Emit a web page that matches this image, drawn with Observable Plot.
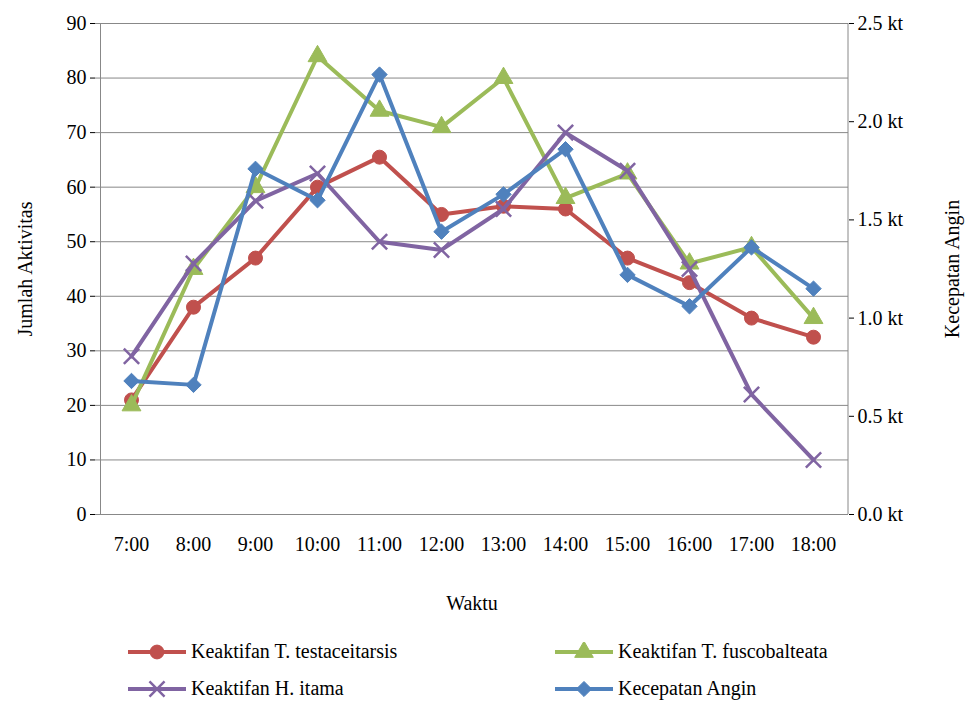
<!DOCTYPE html>
<html><head><meta charset="utf-8">
<script src="https://cdn.jsdelivr.net/npm/d3@7"></script>
<script src="https://cdn.jsdelivr.net/npm/@observablehq/plot@0.6"></script>
<style>
body{margin:0;background:#fff;font-family:"Liberation Serif",serif;}
#legend{position:relative;height:83px;font-size:20px;}
.item{position:absolute;display:flex;align-items:center;}
</style></head><body>
<div id="chart"></div>
<div id="legend"></div>
<script>
const jam = ["7:00","8:00","9:00","10:00","11:00","12:00","13:00","14:00","15:00","16:00","17:00","18:00"];
const testaceitarsis = [21, 38, 47, 60, 65.5, 55, 56.5, 56, 47, 42.5, 36, 32.5];
const fuscobalteata = [20, 45, 60, 84, 74, 71, 80, 58, 62.5, 46, 49, 36];
const itama = [29, 46, 57.5, 62.5, 50, 48.5, 56, 70, 63, 45, 22, 10];
const angin = [0.68, 0.66, 1.76, 1.60, 2.24, 1.44, 1.63, 1.86, 1.22, 1.06, 1.36, 1.15];
const ktTicks = [0, 0.5, 1, 1.5, 2, 2.5];
const K = 36; // 2.5 kt sits at 90

// square diamond (rotated square)
const squareDiamond = {draw(ctx, size) {
  const r = Math.sqrt(size) * 0.62;
  ctx.moveTo(0, -r); ctx.lineTo(r, 0); ctx.lineTo(0, r); ctx.lineTo(-r, 0); ctx.closePath();
}};
const symbols = {circle:d3.symbolCircle, triangle:d3.symbolTriangle, times:d3.symbolTimes, diamond:squareDiamond};

const series = [
  {name:"Keaktifan T. testaceitarsis", vals:testaceitarsis, color:"#c0504d", symbol:"circle", scale:1},
  {name:"Keaktifan T. fuscobalteata", vals:fuscobalteata, color:"#9bbb59", symbol:"triangle", scale:1},
  {name:"Keaktifan H. itama", vals:itama, color:"#8064a2", symbol:"times", scale:1},
  {name:"Kecepatan Angin", vals:angin, color:"#4f81bd", symbol:"diamond", scale:K}
];
const rows = series.flatMap(s => s.vals.map((v,i) => ({jam:jam[i], y:v*s.scale, s:s.name})));

const marks = [
  Plot.ruleY(d3.range(10, 91, 10), {stroke:"#888", strokeWidth:1}),
  Plot.ruleY([0], {stroke:"#888"}),
  Plot.ruleX([0], {x:() => jam[0], dx:-31, stroke:"#888"}),
  Plot.axisY(d3.range(0, 91, 10), {anchor:"left", tickSize:5, fontSize:20, label:"Jumlah Aktivitas", labelArrow:"none", labelAnchor:"center", labelOffset:78}),
  Plot.axisY(ktTicks.map(k => k*K), {anchor:"right", tickSize:5, fontSize:20, tickFormat:d => (d/K).toFixed(1)+" kt", label:"Kecepatan Angin", labelArrow:"none", labelAnchor:"center", labelOffset:110}),
  Plot.axisX({fontSize:20, tickSize:0, tickPadding:22, label:"Waktu", labelArrow:"none", labelAnchor:"center", labelOffset:95})
];
for (const s of series) {
  const d = rows.filter(r => r.s === s.name);
  const sym = symbols[s.symbol];
  marks.push(Plot.line(d, {x:"jam", y:"y", stroke:s.color, strokeWidth:4}));
  marks.push(Plot.dot(d, {x:"jam", y:"y", symbol:sym, r:7, fill:s.symbol==="times"?"none":s.color, stroke:s.color, strokeWidth:s.symbol==="times"?2.5:1}));
}

const chart = Plot.plot({
  width:969, height:625,
  marginLeft:95, marginRight:121, marginTop:23, marginBottom:111,
  style:{fontFamily:"Liberation Serif", fontSize:"20px", color:"#000"},
  x:{type:"point", domain:jam, padding:0.5},
  y:{domain:[0,90], label:null},
  marks
});
document.getElementById("chart").append(chart);
d3.select(chart).append("line").attr("x1",848).attr("x2",848).attr("y1",23).attr("y2",514).attr("stroke","#888");
d3.select(chart).selectAll("text").style("font-size","20px");

const pos = [[128,30],[555,30],[128,67],[555,67]];
const lg = d3.select("#legend");
series.forEach((s,i) => {
  const it = lg.append("div").attr("class","item").style("left",pos[i][0]+"px").style("top",(pos[i][1]-15)+"px");
  const sv = it.append("svg").attr("width",60).attr("height",20);
  sv.append("line").attr("x1",0).attr("x2",58).attr("y1",10).attr("y2",10).attr("stroke",s.color).attr("stroke-width",4);
  sv.append("path").attr("transform","translate(29,10)")
    .attr("d", d3.symbol(symbols[s.symbol], 150)())
    .attr("fill", s.symbol==="times"?"none":s.color).attr("stroke",s.color).attr("stroke-width",s.symbol==="times"?2.5:1);
  it.append("span").text(s.name).style("margin-left","3px");
});
</script>
</body></html>
